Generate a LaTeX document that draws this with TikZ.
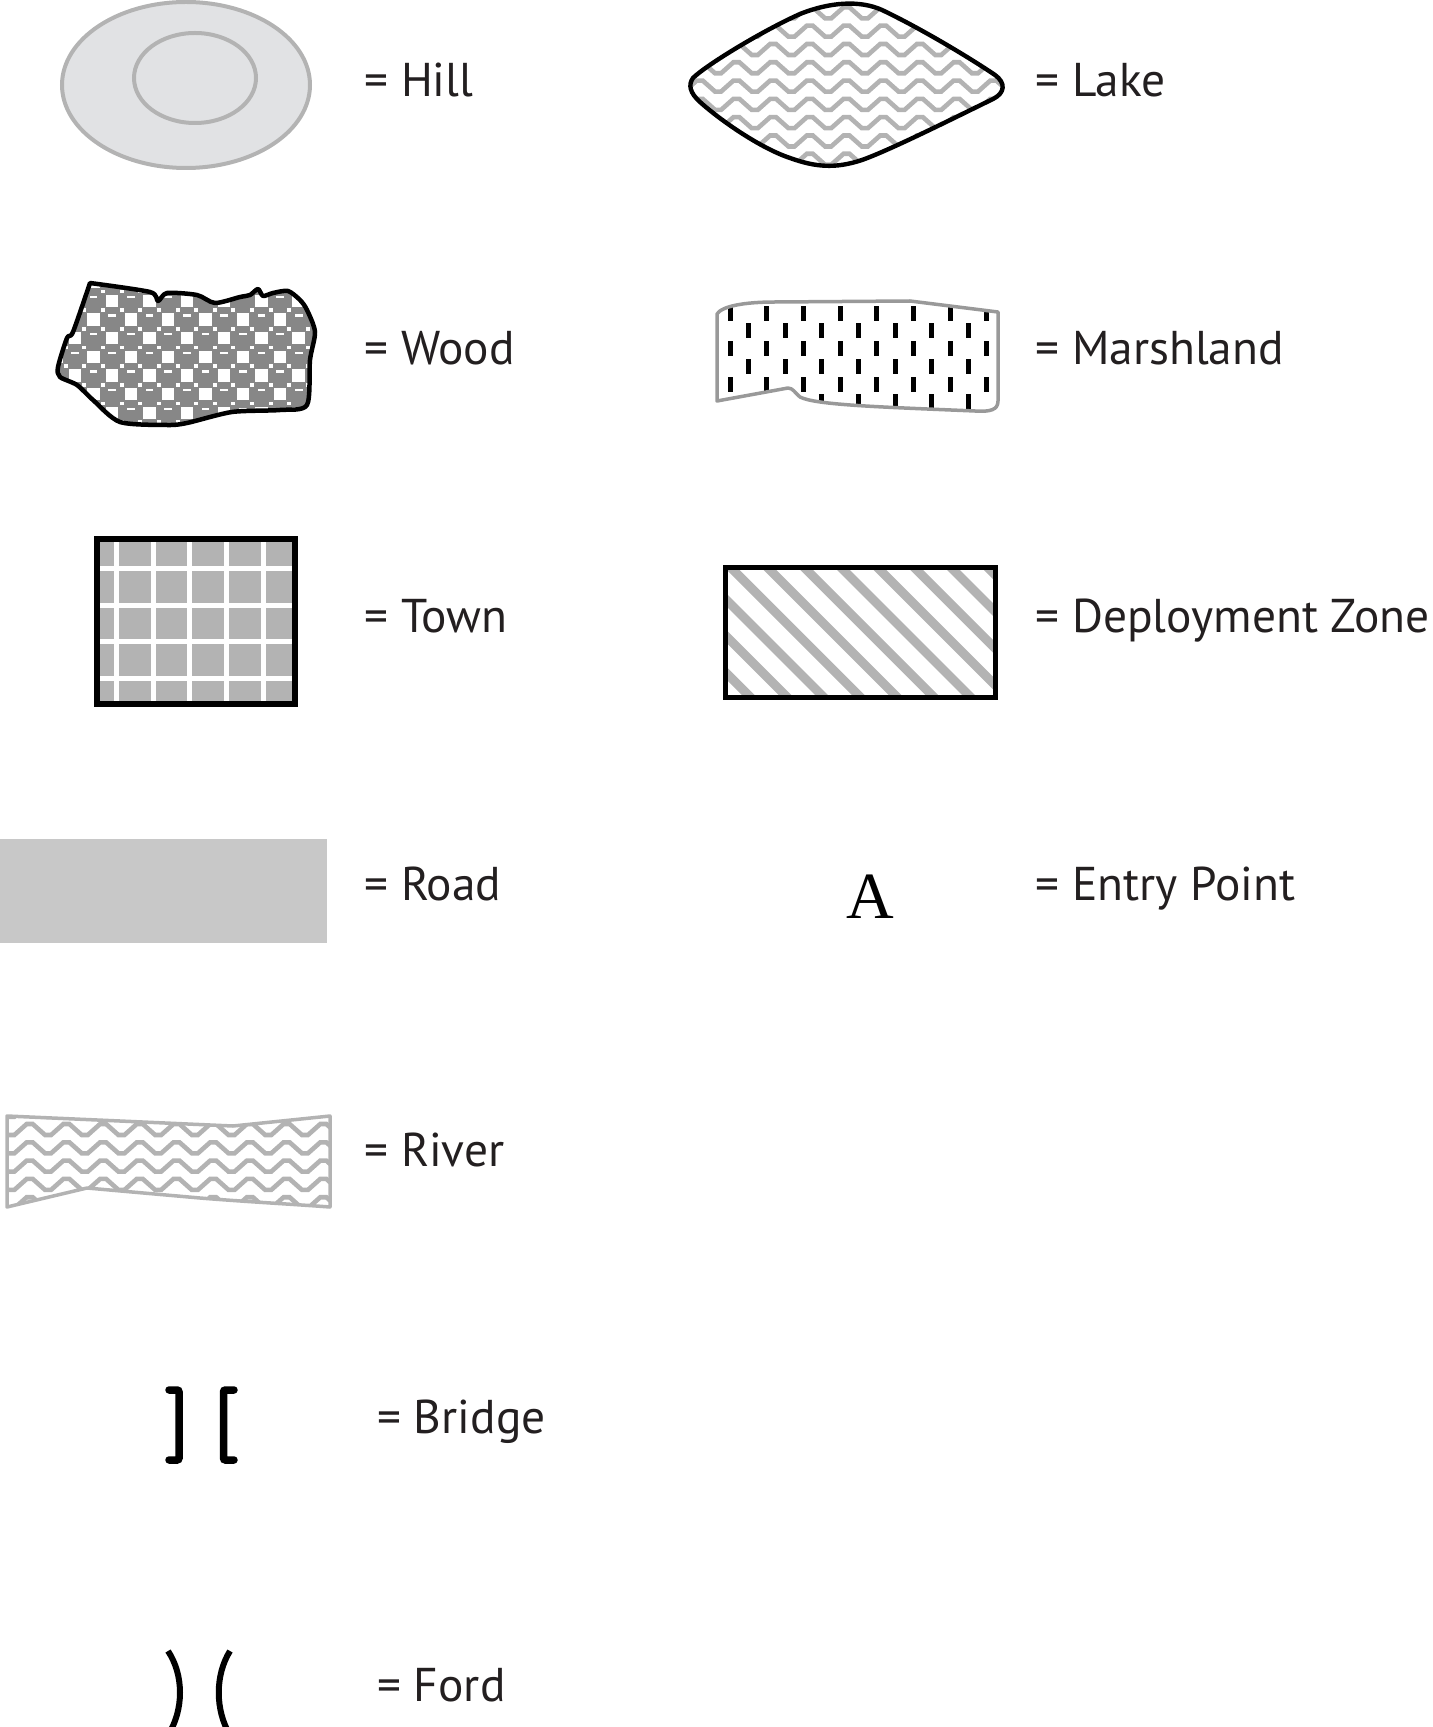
\documentclass[tikz,border=0pt]{standalone}
\usepackage{fontspec}
\setmainfont{PT Sans}
\newfontfamily\entryfont{Liberation Serif}
\usepackage{tikz}

\definecolor{hillfill}{HTML}{E1E2E4}
\definecolor{lightline}{HTML}{B3B3B3}
\definecolor{woodgray}{HTML}{878787}
\definecolor{roadgray}{HTML}{C8C8C8}
\definecolor{marshline}{HTML}{999999}
\definecolor{inkblack}{HTML}{231F20}

\tikzset{
  legend/.style={anchor=base west, inner sep=0pt, text=inkblack, font=\fontsize{23.7}{28}\selectfont},
  wave/.style={lightline, line width=2.3pt},
  bracket/.style={line width=3.75pt, line cap=round, rounded corners=1pt},
}

% outlines used twice (clip + draw)
\def\lakepath{(693,78) .. controls (705,66) and (760,32) .. (800,14) .. controls (830,2) and (860,0) .. (882,10) .. controls (920,28) and (970,58) .. (995,75) .. controls (1006,83) and (1005,93) .. (993,99) .. controls (950,120) and (890,150) .. (862,160) .. controls (835,169) and (815,167) .. (790,158) .. controls (760,148) and (720,120) .. (700,102) .. controls (690,93) and (688,85) .. (693,78) -- cycle}
\def\woodpath{(90,283) -- plot[smooth, tension=0.45] coordinates {(90,283) (150,292) (158,301) (167,293) (197,295) (215,303) (240,297) (250,295) (258,289) (263,296) (273,293) (288,291) (300,300) (307,310) (315,332) (310,360) (307,405) (280,410) (232,412) (187,423) (167,425) (120,422) (93,400) (77,385) (60,377) (58,367) (67,338) (73,332) (90,283)} -- cycle}
\def\marshpath{(717,401) -- (717,314) .. controls (722,306) and (745,302) .. (775,302) -- (910,301) -- (998,312) -- (998,401) .. controls (998,410) and (990,412) .. (975,411) .. controls (880,407) and (815,405) .. (800,397) .. controls (795,393) and (793,388) .. (788,388) -- cycle}
\def\riverpath{(7,1116) -- (233,1126) -- (330,1116) -- (330,1207) .. controls (290,1204) and (250,1202) .. (200,1198) -- (87,1188) -- (7,1207) -- cycle}

\begin{document}
\begin{tikzpicture}[x=0.5pt,y=-0.5pt]
  \useasboundingbox (0,0) rectangle (1432,1727);

  % Hill
  \filldraw[fill=hillfill, draw=lightline, line width=2pt] (186,85) ellipse [x radius=124, y radius=83];
  \draw[lightline, line width=2pt] (195,78) ellipse [x radius=61, y radius=45];
  \node[legend] (hill) at (364,97) {= Hill};

  % Lake
  \begin{scope}
    \clip \lakepath;
    \foreach \j in {-1,...,9} {
      \draw[wave] (660,7.4+18.3*\j) \foreach \k in {1,...,10} { -- ++(6,0) -- ++(12.35,11) -- ++(6,0) -- ++(12.35,-11) };
    }
  \end{scope}
  \draw[line width=2.2pt] \lakepath;
  \node[legend] (lake) at (1035,97) {= Lake};

  % Wood
  \begin{scope}
    \clip \woodpath;
    \fill[woodgray] (50,275) rectangle (320,435);
    \foreach \i in {0,...,7} {
      \foreach \j in {0,...,4} {
        \pgfmathsetmacro\wx{50+37.3*\i}
        \pgfmathsetmacro\wy{276+37.3*\j}
        \fill[white] (\wx,\wy) rectangle ++(12.5,12.5);
        \fill[white] (\wx+18.65,\wy+18.65) rectangle ++(12.5,12.5);
        \fill[white] (\wx+13.6,\wy+13.8) rectangle ++(4,3.6);
        \fill[white] (\wx+32.25,\wy+13.8) rectangle ++(4,3.6);
        \fill[white] (\wx+13.6,\wy+32.45) rectangle ++(4,3.6);
        \fill[white] (\wx+32.25,\wy+32.45) rectangle ++(4,3.6);
        \fill[white] (\wx+21,\wy+1) rectangle ++(7.7,2.5);
        \fill[white] (\wx+2.4,\wy+19.65) rectangle ++(7.7,2.5);
      }
    }
  \end{scope}
  \draw[line width=2.25pt, line join=round] \woodpath;
  \node[legend] (wood) at (364,365) {= Wood};

  % Marshland
  \begin{scope}
    \clip \marshpath;
    \foreach \i in {0,...,7} {
      \foreach \j in {0,1,2} {
        \fill (727.5+36.7*\i,306+35.5*\j) rectangle ++(5,15);
        \fill (745.8+36.7*\i,323.5+35.5*\j) rectangle ++(5,15);
      }
    }
  \end{scope}
  \draw[marshline, line width=1.75pt, line join=round] \marshpath;
  \node[legend] (marsh) at (1035,365) {= Marshland};

  % Town
  \fill[lightline] (97,539) rectangle (295,704);
  \foreach \gx in {116.5,153.5,189.5,226.5,263.5}
    \fill[white] (\gx-2.5,539) rectangle (\gx+2.5,704);
  \foreach \gy in {568.5,605.5,641.5,678.5}
    \fill[white] (97,\gy-2.5) rectangle (295,\gy+2.5);
  \draw[line width=3pt] (97,539) rectangle (295,704);
  \node[legend] (town) at (364,632) {= Town};

  % Deployment zone
  \begin{scope}
    \clip (726,568) rectangle (995,697);
    \foreach \k in {-5,...,7}
      \draw[lightline, line width=4.5pt] (760+36.7*\k,560) -- ++(150,150);
  \end{scope}
  \draw[line width=2.5pt] (725.5,567.5) rectangle (995.5,697.5);
  \node[legend] (deploy) at (1035,632) {= Deployment Zone};

  % Road
  \fill[roadgray] (0,839) rectangle (327,943);
  \node[legend] (road) at (364,900) {= Road};

  % Entry point
  \node[anchor=base, inner sep=0pt, font=\entryfont\fontsize{33}{36}\selectfont] (entryA) at (870,918) {A};
  \node[legend] (entry) at (1035,900) {= Entry Point};

  % River
  \begin{scope}
    \clip \riverpath;
    \foreach \j in {-1,...,5} {
      \draw[wave] (-10,1124+18.3*\j) \foreach \k in {1,...,10} { -- ++(6,0) -- ++(12.35,11) -- ++(6,0) -- ++(12.35,-11) };
    }
  \end{scope}
  \draw[lightline, line width=1.75pt, line join=round] \riverpath;
  \node[legend] (river) at (364,1166) {= River};

  % Bridge
  \draw[bracket] (169,1390) -- (179,1390) -- (179,1460) -- (169,1460);
  \draw[bracket] (234,1390) -- (223.5,1390) -- (223.5,1460) -- (234,1460);
  \node[legend] (bridge) at (377,1433) {= Bridge};

  % Ford
  \draw[line width=3pt] (168,1651) .. controls (184,1675) and (184,1710) .. (168,1735);
  \draw[line width=3pt] (230,1651) .. controls (215,1675) and (215,1710) .. (230,1735);
  \node[legend] (ford) at (377,1701) {= Ford};
\end{tikzpicture}
\end{document}
